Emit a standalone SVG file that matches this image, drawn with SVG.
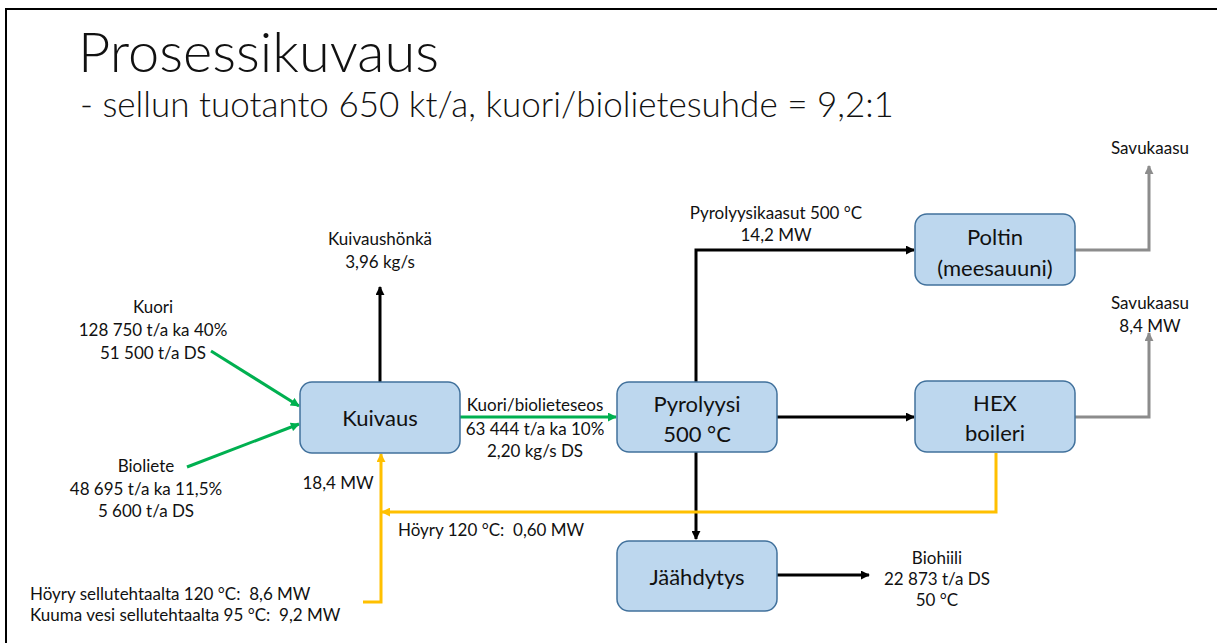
<svg xmlns="http://www.w3.org/2000/svg" width="1217" height="643" viewBox="0 0 1217 643">
  <style>
    text { font-family: Lato, "Open Sans", "Liberation Sans", sans-serif; fill: #111; white-space: pre; }
    .title { font-size: 56px; font-weight: 300; }
    .sub { font-size: 35px; font-weight: 300; }
    .lbl { font-size: 17px; text-anchor: middle; dominant-baseline: central; }
    .lbl-l { font-size: 17px; dominant-baseline: central; }
    .node rect { fill: #BDD7EE; stroke: #41719C; stroke-width: 1.5; }
    .node text { font-size: 22px; text-anchor: middle; dominant-baseline: central; }
    .blk { stroke: #000; stroke-width: 3; fill: none; }
    .grn { stroke: #00B050; stroke-width: 3; fill: none; }
    .yel { stroke: #FFC000; stroke-width: 3; fill: none; }
    .gry { stroke: #8C8C8C; stroke-width: 3; fill: none; }
  </style>
  <defs>
    <marker id="ah-blk" viewBox="0 0 10 10" refX="9" refY="5" markerWidth="3.2" markerHeight="3" orient="auto" markerUnits="strokeWidth">
      <path d="M0,0 L10,5 L0,10 Z" fill="#000"/>
    </marker>
    <marker id="ah-grn" viewBox="0 0 10 10" refX="9" refY="5" markerWidth="3.2" markerHeight="3" orient="auto" markerUnits="strokeWidth">
      <path d="M0,0 L10,5 L0,10 Z" fill="#00B050"/>
    </marker>
    <marker id="ah-yel" viewBox="0 0 10 10" refX="9" refY="5" markerWidth="3.2" markerHeight="3" orient="auto" markerUnits="strokeWidth">
      <path d="M0,0 L10,5 L0,10 Z" fill="#FFC000"/>
    </marker>
    <marker id="ah-gry" viewBox="0 0 10 10" refX="9" refY="5" markerWidth="3.2" markerHeight="3" orient="auto" markerUnits="strokeWidth">
      <path d="M0,0 L10,5 L0,10 Z" fill="#8C8C8C"/>
    </marker>
  </defs>

  <rect width="1217" height="643" fill="#fff"/>
  <!-- slide frame -->
  <rect x="6" y="9" width="1220" height="640" fill="none" stroke="#000" stroke-width="2"/>

  <text class="title" x="78" y="72">Prosessikuvaus</text>
  <text class="sub" x="80" y="117">- sellun tuotanto 650 kt/a, kuori/biolietesuhde = 9,2:1</text>

  <!-- connectors -->
  <g id="connectors">
    <path class="blk" d="M380,382 V287" marker-end="url(#ah-blk)"/>
    <path class="grn" d="M211,351 L299,406" marker-end="url(#ah-grn)"/>
    <path class="grn" d="M187,467 L299,424" marker-end="url(#ah-grn)"/>
    <path class="grn" d="M460,417 H616" marker-end="url(#ah-grn)"/>
    <path class="blk" d="M696,382 V250 H914" marker-end="url(#ah-blk)"/>
    <path class="blk" d="M777,417 H914" marker-end="url(#ah-blk)"/>
    <path class="blk" d="M696,452 V539" marker-end="url(#ah-blk)"/>
    <path class="blk" d="M777,575 H869" marker-end="url(#ah-blk)"/>
    <path class="gry" d="M1075,250 H1149 V166" marker-end="url(#ah-gry)"/>
    <path class="gry" d="M1075,417 H1149 V333" marker-end="url(#ah-gry)"/>
    <path class="yel" d="M996,453 V512 H382" marker-end="url(#ah-yel)"/>
    <path class="yel" d="M363,602 H381 V454" marker-end="url(#ah-yel)"/>
  </g>

  <!-- nodes -->
  <g id="kuivaus" class="node">
    <rect x="300" y="382" width="160" height="71" rx="12"/>
    <text x="380" y="417">Kuivaus</text>
  </g>
  <g id="pyrolyysi" class="node">
    <rect x="617" y="382" width="160" height="70" rx="12"/>
    <text x="697" y="403">Pyrolyysi</text>
    <text x="697" y="433">500 °C</text>
  </g>
  <g id="poltin" class="node">
    <rect x="915" y="214" width="160" height="71" rx="12"/>
    <text x="995" y="236">Poltin</text>
    <text x="995" y="267">(meesauuni)</text>
  </g>
  <g id="hex" class="node">
    <rect x="915" y="381" width="160" height="71" rx="12"/>
    <text x="995" y="402">HEX</text>
    <text x="995" y="432">boileri</text>
  </g>
  <g id="jaahdytys" class="node">
    <rect x="617" y="541" width="160" height="70" rx="12"/>
    <text x="697" y="576">Jäähdytys</text>
  </g>

  <!-- stream labels -->
  <g id="labels">
    <text class="lbl" x="380" y="238">Kuivaushönkä</text>
    <text class="lbl" x="380" y="261">3,96 kg/s</text>

    <text class="lbl" x="153" y="306">Kuori</text>
    <text class="lbl" x="153" y="329">128 750 t/a ka 40%</text>
    <text class="lbl" x="153" y="352">51 500 t/a DS</text>

    <text class="lbl" x="146" y="465">Bioliete</text>
    <text class="lbl" x="146" y="488">48 695 t/a ka 11,5%</text>
    <text class="lbl" x="146" y="510">5 600 t/a DS</text>

    <text class="lbl" x="338" y="482">18,4 MW</text>

    <text class="lbl" x="535" y="404">Kuori/biolieteseos</text>
    <text class="lbl" x="535" y="428">63 444 t/a ka 10%</text>
    <text class="lbl" x="535" y="450">2,20 kg/s DS</text>

    <text class="lbl" x="776" y="212">Pyrolyysikaasut 500 °C</text>
    <text class="lbl" x="776" y="234">14,2 MW</text>

    <text class="lbl" x="1150" y="147">Savukaasu</text>
    <text class="lbl" x="1150" y="302">Savukaasu</text>
    <text class="lbl" x="1150" y="325">8,4 MW</text>

    <text class="lbl-l" x="398" y="529" xml:space="preserve">Höyry 120 °C:  0,60 MW</text>

    <text class="lbl" x="937" y="557">Biohiili</text>
    <text class="lbl" x="937" y="578">22 873 t/a DS</text>
    <text class="lbl" x="937" y="599">50 °C</text>

    <text class="lbl-l" x="30" y="593" xml:space="preserve">Höyry sellutehtaalta 120 °C:  8,6 MW</text>
    <text class="lbl-l" x="30" y="614" xml:space="preserve">Kuuma vesi sellutehtaalta 95 °C:  9,2 MW</text>
  </g>
</svg>
